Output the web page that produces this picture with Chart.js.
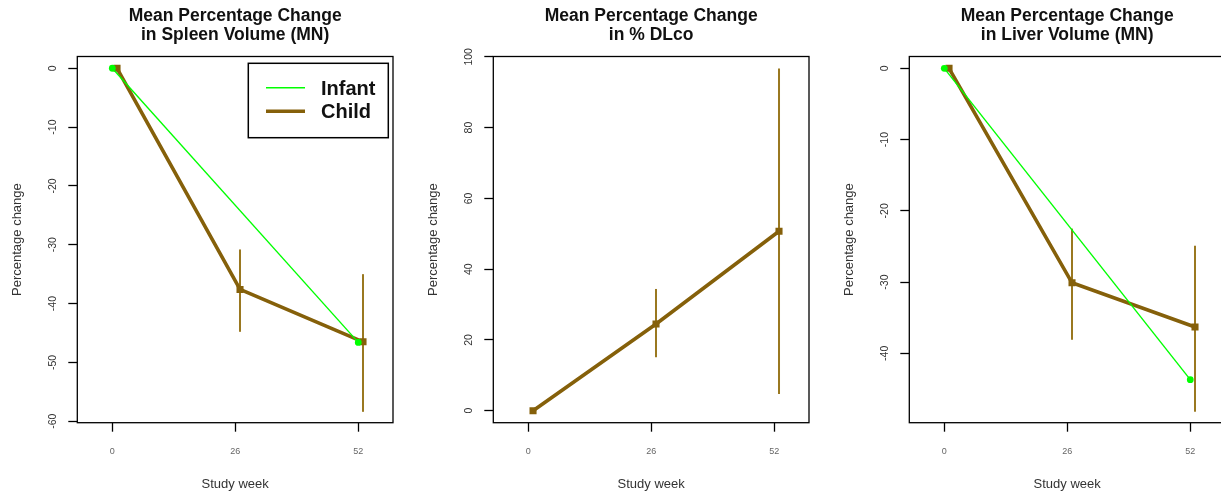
<!DOCTYPE html>
<html>
<head>
<meta charset="utf-8">
<script src="https://cdn.jsdelivr.net/npm/chart.js@4.4.1/dist/chart.umd.min.js"></script>
<style>
  html, body { margin: 0; padding: 0; background: #fff; overflow: hidden; }
  #wrap { position: relative; width: 1221px; height: 493px; overflow: hidden; }
  .panel { position: absolute; top: 0; width: 416px; height: 493px; }
</style>
</head>
<body>
<div id="wrap">
  <div class="panel" style="left:0px"><canvas id="spleen" width="416" height="493"></canvas></div>
  <div class="panel" style="left:416px"><canvas id="dlco" width="416" height="493"></canvas></div>
  <div class="panel" style="left:832px"><canvas id="liver" width="416" height="493"></canvas></div>
</div>
<script>
// ---------------------------------------------------------------- data
const weekTicks = [0, 26, 52];
const infantWeeks = [0, 52];
const childWeeks = [1, 27, 53]; // child shifted one week so the bars stay readable

const spleenInfant = [0, -46.6];
const spleenChild = [0, -37.6, -46.5];
const spleenChildHi = [0, -30.8, -35.0];
const spleenChildLo = [0, -44.8, -58.4];
const spleenTicks = [0, -10, -20, -30, -40, -50, -60];

const dlcoChild = [0, 24.5, 50.7];
const dlcoChildHi = [0, 34.4, 96.7];
const dlcoChildLo = [0, 15.1, 4.7];
const dlcoTicks = [0, 20, 40, 60, 80, 100];

const liverInfant = [0, -43.7];
const liverChild = [0, -30.1, -36.3];
const liverChildHi = [0, -22.5, -24.9];
const liverChildLo = [0, -38.1, -48.2];
const liverTicks = [0, -10, -20, -30, -40];

// ---------------------------------------------------------------- styling
const FONT = '"Liberation Sans", Arial, Helvetica, sans-serif';
const GREEN = '#00ff00';
const BROWN = '#85600a';
const ERR = '#9a7820';

function points(xs, ys) {
  return xs.map((x, i) => ({ x, y: ys[i] }));
}

// box round the plotting region, like base R's box()
const plotBox = {
  id: 'plotBox',
  afterDraw(chart) {
    const { ctx, chartArea: a } = chart;
    ctx.save();
    ctx.strokeStyle = '#000';
    ctx.lineWidth = 1.3;
    ctx.strokeRect(a.left, a.top, a.right - a.left, a.bottom - a.top);
    ctx.restore();
  }
};

function errorBars(xs, lo, hi) {
  return {
    id: 'errorBars',
    beforeDatasetsDraw(chart) {
      const { ctx, scales: { x, y } } = chart;
      ctx.save();
      ctx.strokeStyle = ERR;
      ctx.lineWidth = 2;
      xs.forEach((w, i) => {
        if (lo[i] === hi[i]) return;
        const px = x.getPixelForValue(w);
        ctx.beginPath();
        ctx.moveTo(px, y.getPixelForValue(lo[i]));
        ctx.lineTo(px, y.getPixelForValue(hi[i]));
        ctx.stroke();
      });
      ctx.restore();
    }
  };
}

// boxed legend in the top-right corner of the plot
const boxLegend = {
  id: 'boxLegend',
  afterDraw(chart) {
    const { ctx, chartArea: a } = chart;
    const w = 140, h = 74.4;
    const left = a.right - 4.7 - w, top = a.top + 6.8;
    ctx.save();
    ctx.fillStyle = '#fff';
    ctx.fillRect(left, top, w, h);
    ctx.strokeStyle = '#000';
    ctx.lineWidth = 1.5;
    ctx.strokeRect(left, top, w, h);
    ctx.font = 'bold 20px ' + FONT;
    ctx.textBaseline = 'middle';
    chart.data.datasets.forEach((ds, i) => {
      const yRow = top + 24.4 + i * 23.6;
      ctx.strokeStyle = ds.borderColor;
      ctx.lineWidth = ds.borderWidth;
      ctx.beginPath();
      ctx.moveTo(left + 17.7, yRow);
      ctx.lineTo(left + 56.7, yRow);
      ctx.stroke();
      ctx.fillStyle = '#111';
      ctx.fillText(ds.label, left + 72.7, yRow + 1.5);
    });
    ctx.restore();
  }
};

function makePanel(id, cfg) {
  const datasets = [];
  if (cfg.infant) {
    datasets.push({
      label: 'Infant',
      data: points(infantWeeks, cfg.infant),
      borderColor: GREEN,
      backgroundColor: GREEN,
      borderWidth: 1.4,
      pointStyle: 'circle',
      pointRadius: 3.4,
      pointBorderWidth: 0,
      tension: 0
    });
  }
  datasets.push({
    label: 'Child',
    data: points(childWeeks, cfg.child),
    borderColor: BROWN,
    backgroundColor: BROWN,
    borderWidth: 3.6,
    pointStyle: 'rect',
    pointRadius: 5,
    pointBorderWidth: 0,
    tension: 0
  });

  const plugins = [errorBars(childWeeks, cfg.lo, cfg.hi), plotBox];
  if (cfg.legend) plugins.push(boxLegend);

  return new Chart(document.getElementById(id), {
    type: 'line',
    data: { datasets },
    options: {
      responsive: false,
      animation: false,
      events: [],
      layout: { padding: { left: 0, right: 23, top: 0, bottom: 0 } },
      plugins: {
        legend: { display: false },
        tooltip: { enabled: false },
        title: {
          display: true,
          fullSize: false,
          text: cfg.title,
          color: '#111',
          font: { family: FONT, size: 17.5, weight: 'bold', lineHeight: '19px' },
          padding: { top: 7, bottom: 11.5 }
        }
      },
      scales: {
        x: {
          type: 'linear',
          bounds: 'data',
          min: -7.4,
          max: 59.34,
          afterBuildTicks: (s) => { s.ticks = weekTicks.map((v) => ({ value: v })); },
          afterFit: (s) => { s.height = 70.3; },
          border: { display: false },
          grid: { drawOnChartArea: false, drawTicks: true, tickLength: 9, tickColor: '#000', tickWidth: 1.3 },
          ticks: {
            autoSkip: false,
            maxRotation: 0,
            padding: 14.6,
            color: '#666',
            font: { family: FONT, size: 9 },
            callback: (v) => String(v)
          },
          title: {
            display: true,
            text: 'Study week',
            color: '#333',
            font: { family: FONT, size: 13 },
            padding: { top: 0, bottom: 1.2 }
          }
        },
        y: {
          type: 'linear',
          bounds: 'data',
          min: cfg.yMin,
          max: cfg.yMax,
          afterBuildTicks: (s) => { s.ticks = cfg.yTicks.map((v) => ({ value: v })); },
          afterFit: (s) => { s.width = 77.3; },
          border: { display: false },
          grid: { drawOnChartArea: false, drawTicks: true, tickLength: 9, tickColor: '#000', tickWidth: 1.3 },
          ticks: {
            autoSkip: false,
            minRotation: 90,
            maxRotation: 90,
            crossAlign: 'center',
            padding: cfg.tickPad,
            color: '#333',
            font: { family: FONT, size: 10.5 },
            callback: (v) => String(v)
          },
          title: {
            display: true,
            text: 'Percentage change',
            color: '#333',
            font: { family: FONT, size: 13 },
            padding: { top: 9.2, bottom: 0 }
          }
        }
      }
    },
    plugins
  });
}

makePanel('spleen', {
  title: ['Mean Percentage Change', 'in Spleen Volume (MN)'],
  infant: spleenInfant,
  child: spleenChild,
  lo: spleenChildLo,
  hi: spleenChildHi,
  yTicks: spleenTicks,
  yMin: -60.25,
  yMax: 2.0,
  tickPad: 7.8,
  legend: true
});

makePanel('dlco', {
  title: ['Mean Percentage Change', 'in % DLco'],
  child: dlcoChild,
  lo: dlcoChildLo,
  hi: dlcoChildHi,
  yTicks: dlcoTicks,
  yMin: -3.4,
  yMax: 100.1,
  tickPad: 6.6
});

makePanel('liver', {
  title: ['Mean Percentage Change', 'in Liver Volume (MN)'],
  infant: liverInfant,
  child: liverChild,
  lo: liverChildLo,
  hi: liverChildHi,
  yTicks: liverTicks,
  yMin: -49.74,
  yMax: 1.66,
  tickPad: 7.8
});
</script>
</body>
</html>
